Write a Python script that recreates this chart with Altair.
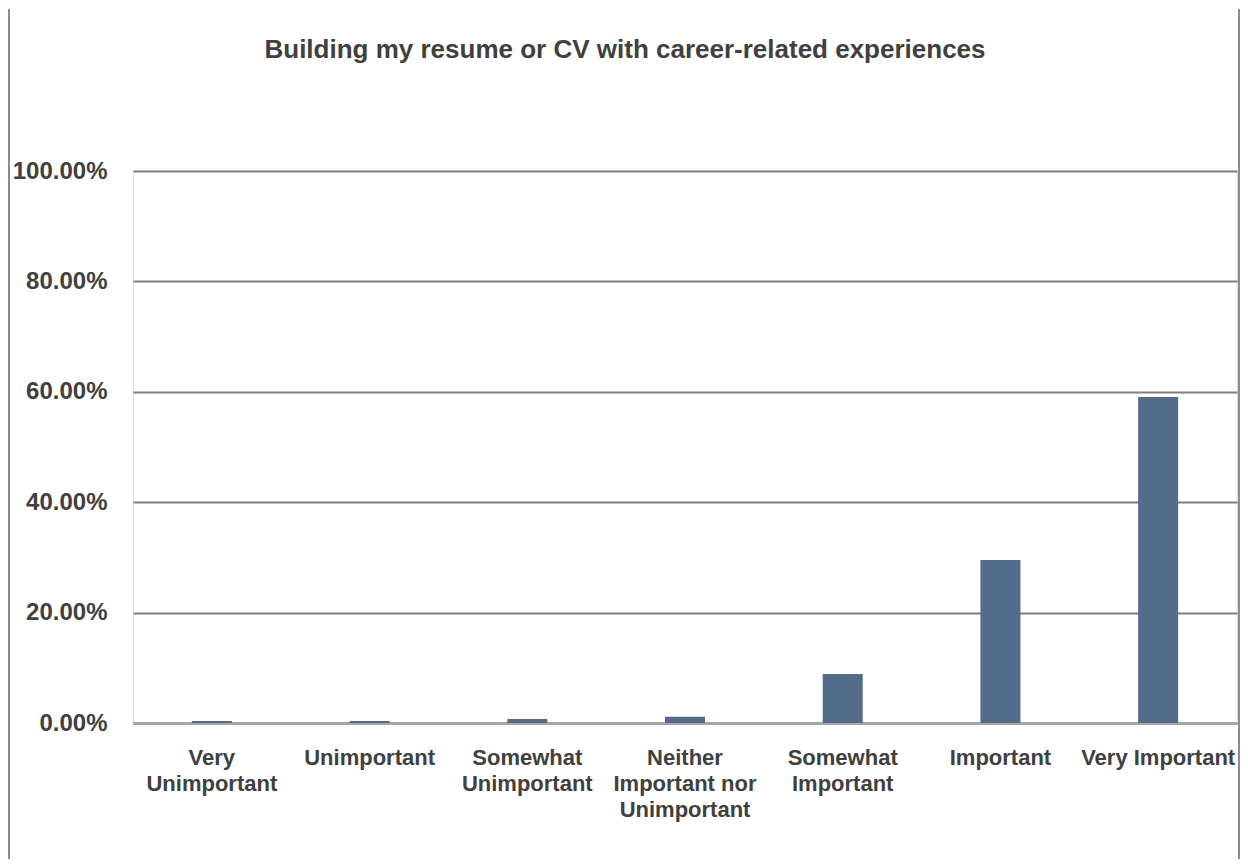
import altair as alt
import pandas as pd

categories = ["Very Unimportant", "Unimportant", "Somewhat Unimportant",
              "Neither Important nor Unimportant", "Somewhat Important",
              "Important", "Very Important"]
values = [0.0037, 0.0037, 0.0074, 0.0111, 0.0886, 0.2952, 0.5904]
label_lines = [["Very", "Unimportant"], ["Unimportant"], ["Somewhat", "Unimportant"],
               ["Neither", "Important nor", "Unimportant"], ["Somewhat", "Important"],
               ["Important"], ["Very Important"]]
y_ticks = [0, 0.2, 0.4, 0.6, 0.8, 1.0]
title_text = "Building my resume or CV with career-related experiences"

df = pd.DataFrame({"category": categories, "value": values})

lookup = "{" + ",".join(
    "'" + c + "': [" + ",".join("'" + l + "'" for l in lines) + "]"
    for c, lines in zip(categories, label_lines)) + "}"

FONT = "Liberation Sans"
TXT = "#404040"

bars = alt.Chart(df).mark_bar(size=40, color="#526c89").encode(
    x=alt.X("category:N", sort=categories, title=None,
            scale=alt.Scale(paddingInner=0, paddingOuter=0),
            axis=alt.Axis(labelExpr=lookup + "[datum.value]", labelAngle=0,
                          labelFont=FONT, labelFontSize=22, labelFontWeight="bold",
                          labelColor=TXT, labelLineHeight=26, labelPadding=24,
                          ticks=False, tickSize=0, domain=True, domainColor="#a6a6a6",
                          domainWidth=3, grid=False, labelLimit=300)),
    y=alt.Y("value:Q", title=None,
            scale=alt.Scale(domain=[0, 1], nice=False),
            axis=alt.Axis(values=y_ticks, format=".2%", labelFont=FONT, labelFontSize=24,
                          labelFontWeight="bold", labelColor=TXT, labelPadding=26,
                          ticks=False, tickSize=0, domain=False, grid=True,
                          gridColor="#7f7f7f", gridWidth=2)),
)

frame_df = pd.DataFrame({"a": [0]})
left_line = alt.Chart(frame_df).mark_rule(color="#8c8c8c", strokeWidth=2).encode(
    x=alt.value(-124), y=alt.value(-162), y2=alt.value(690))
right_line = alt.Chart(frame_df).mark_rule(color="#8c8c8c", strokeWidth=2).encode(
    x=alt.value(1106), y=alt.value(-162), y2=alt.value(690))

chart = alt.layer(bars, left_line, right_line).properties(
    width=1104, height=552,
    title=alt.TitleParams(title_text, font=FONT, fontSize=26, fontWeight="bold",
                          color=TXT, anchor="middle", frame="group", dx=-60,
                          baseline="alphabetic", offset=0, dy=76),
    autosize=alt.AutoSizeParams(type="none"),
    padding={"left": 125, "top": 163, "right": 3, "bottom": 136},
).configure_view(stroke="transparent", strokeWidth=0).configure(background="white")

chart.save("out.html", embed_options={"renderer": "svg", "actions": False})
